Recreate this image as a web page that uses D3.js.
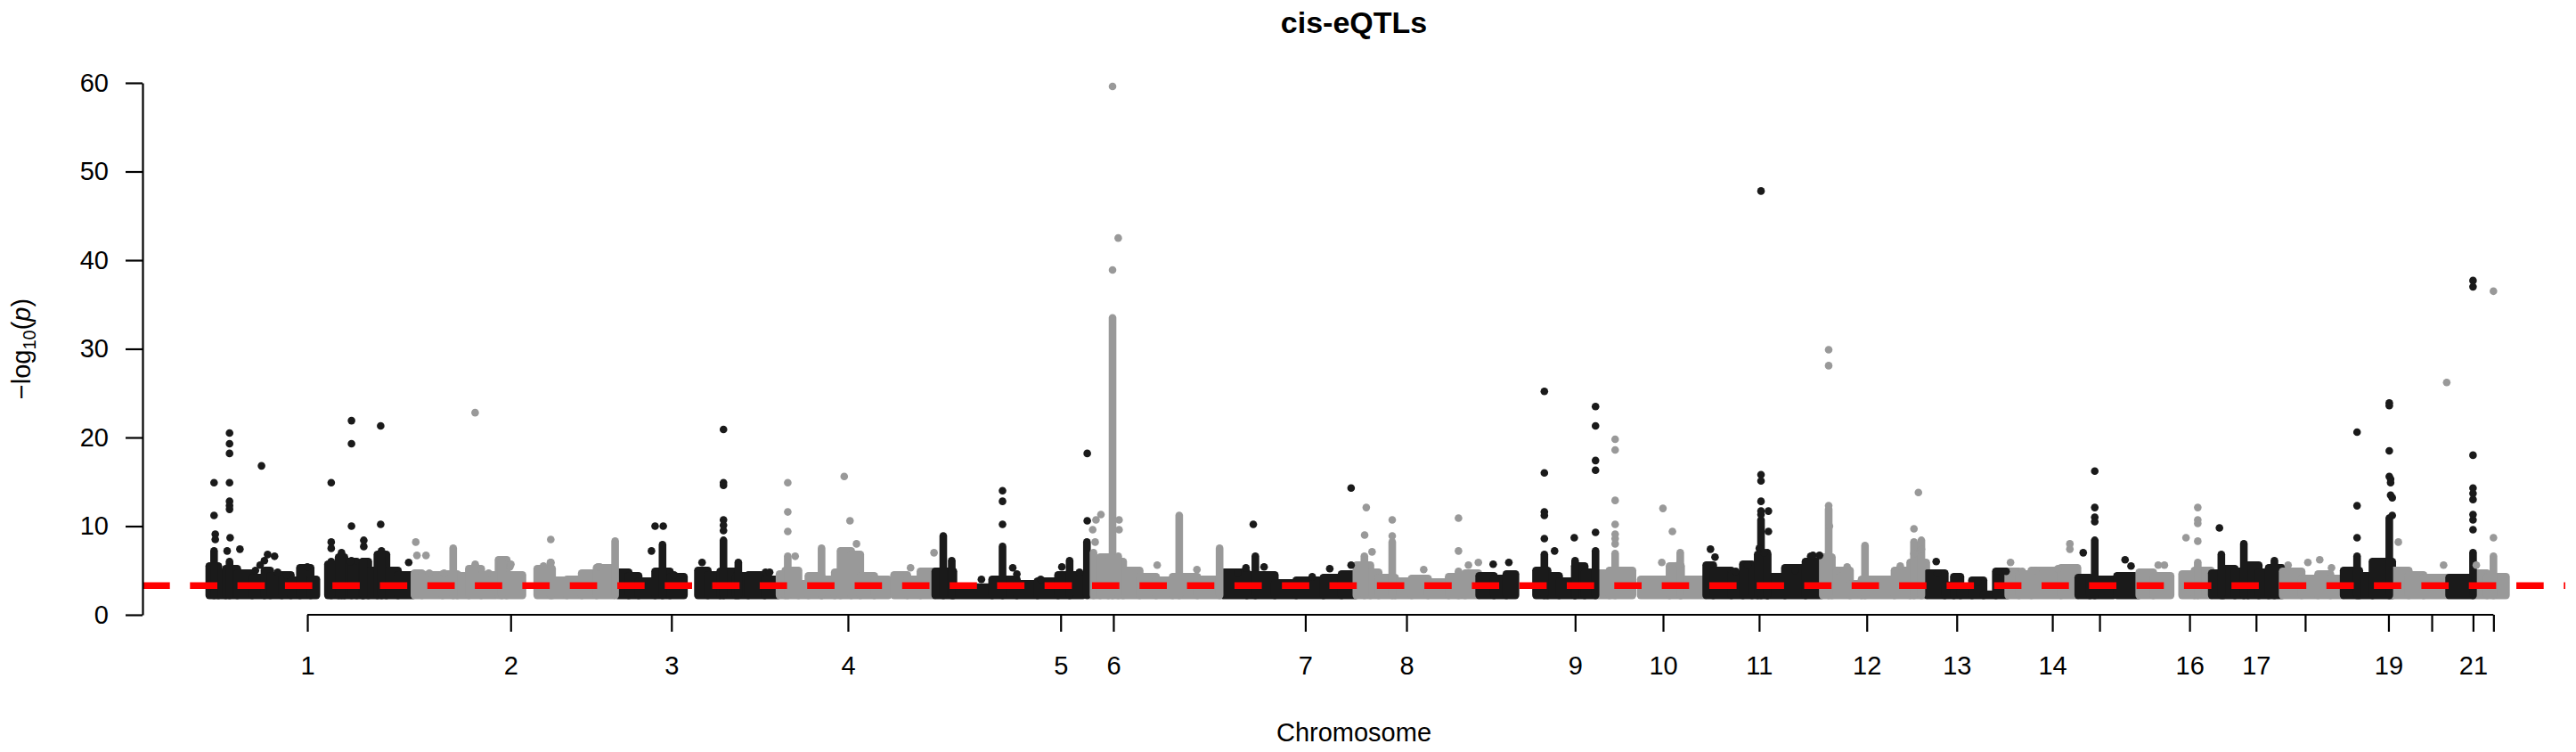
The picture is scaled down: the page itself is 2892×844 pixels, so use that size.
<!DOCTYPE html>
<html>
<head>
<meta charset="utf-8">
<script src="https://cdn.jsdelivr.net/npm/d3@7"></script>
<style>
  body { margin: 0; background: #fff; }
  text { font-family: "Liberation Sans", Arial, sans-serif; fill: #000; }
</style>
</head>
<body>
<div id="chart"></div>
<script>
// chromosome layout, cumulative position in Mb
var chrLabels = ["1","2","3","4","5","6","7","8","9","10","11","12","13","14","15","16","17","18","19","20","21","22"];
var chrStart = [0, 249, 496, 692, 882, 1067, 1231, 1393, 1542, 1685, 1817, 1958, 2085, 2184, 2269, 2343, 2431, 2517, 2591, 2651, 2718, 2749.5];
var tickPos = [120, 366.7, 561.8, 776, 1034.1, 1098.1, 1331, 1453.8, 1658.4, 1765.1, 1881.7, 2012.3, 2121.5, 2237.5, 2294.8, 2404, 2484.7, 2544.3, 2645.4, 2697.9, 2748, 2772.8];
var tickLabels = ["1","2","3","4","5","6","7","8","9","10","11","12","13","14","","16","17","","19","","21",""];
var yTicks = [0, 10, 20, 30, 40, 50, 60];
var threshold = 3.3;

// dense runs of SNPs: [start, end, top -log10(p)]
var bands = [
  [1,12,5.5],[12,21,4.7],[21,35,5.2],[35,53,4.7],[53,68,4.2],[68,75,5.0],[75,89,4.4],[89,100,4.5],[100,111,3.9],[111,124,5.3],[124,131,4.0],
  [145,158,5.7],[158,165,6.5],[165,180,6.0],[180,187,5.3],[187,194,6.0],[194,205,5.0],[205,216,6.8],[216,230,5.0],[230,248,4.5],
  [250,259,4.7],[259,284,4.5],[284,302,4.6],[302,316,4.4],[316,331,5.2],[331,349,4.5],[352,362,6.2],[362,381,4.5],
  [399,417,5.2],[417,435,3.9],[435,453,4.0],[453,471,4.7],[471,492,5.3],
  [497,510,4.8],[510,522,4.4],[522,542,3.8],[542,560,4.9],[560,577,4.3],[594,606,5.0],[606,621,4.5],[621,640,4.9],[640,655,4.4],[655,675,4.5],[675,691,4.0],
  [693,700,4.6],[700,716,5.0],[716,728,3.5],[728,744,4.4],[744,760,4.0],[760,767,4.8],[767,780,7.2],[780,791,6.8],[791,808,4.4],[808,825,4.0],[832,848,4.5],[848,864,4.0],[864,881,4.9],
  [882,904,4.9],[904,951,3.1],[951,981,4.0],[981,1006,3.5],[1006,1031,3.8],[1031,1061,4.5],
  [1068,1082,5.5],[1082,1092,6.5],[1092,1110,6.0],[1110,1130,5.0],[1130,1150,4.3],[1150,1170,3.9],[1170,1200,4.3],[1200,1230,4.0],
  [1232,1260,4.8],[1260,1294,4.5],[1294,1320,3.6],[1320,1353,3.9],[1353,1375,4.2],[1375,1392,4.6],
  [1393,1410,5.6],[1410,1420,4.8],[1420,1440,4.2],[1440,1460,3.8],[1460,1480,4.1],[1480,1505,3.7],[1505,1525,4.3],[1525,1541,4.7],
  [1542,1560,4.4],[1560,1575,4.1],[1575,1586,4.6],[1611,1625,5.0],[1625,1639,4.4],[1639,1658,3.8],[1658,1670,5.5],[1670,1683,4.8],
  [1685,1700,4.7],[1700,1728,5.0],[1738,1773,4.0],[1773,1787,5.5],[1787,1816,4.0],
  [1817.5,1826,5.6],[1826,1848,5.0],[1848,1862,4.6],[1862,1873,5.7],[1873,1880,5.2],[1880,1892,6.8],[1892,1913,4.3],[1913,1938,5.3],[1938,1957,6.0],
  [1959,1970,6.5],[1970,1992,5.0],[1992,2006,3.5],[2006,2046,4.0],[2046,2065,5.0],[2065,2084.5,5.9],
  [2086,2107,4.7],[2107,2118,3.3],[2118,2126,4.3],[2126,2140,2.7],[2140,2154,3.9],[2154,2169,2.3],[2169,2183,4.9],
  [2184,2197,4.9],[2197,2212,4.6],[2212,2248,5.0],[2248,2268,5.3],
  [2269,2283,4.2],[2283,2311.5,4.0],[2316,2342,4.4],
  [2343,2360,4.8],[2360,2381,4.4],[2395,2410,4.6],[2410,2430,5.0],
  [2431,2445,4.7],[2445,2459,5.2],[2459,2475,4.9],[2475,2488,5.6],[2488,2500,4.8],[2500,2516,5.3],
  [2517,2540,4.9],[2540,2560,4.1],[2560,2575,4.6],[2575,2590,4.1],
  [2591,2610,5.0],[2610,2626,4.4],[2626,2650,6.0],
  [2651,2670,5.0],[2670,2688,4.5],[2688,2717,4.2],
  [2719,2748,4.2],
  [2750,2765,4.7],[2765,2788,4.3]
];

// solid columns of stacked SNPs: [position, top]
var spikes = [
  [6.8,7.2],[25.6,6.0],[149,6.0],[161.5,7.0],[173.6,6.1],[188,6.0],[210,7.2],
  [297,7.5],[355.8,6.1],[415,5.9],[493.5,8.3],
  [551,7.9],[625,8.4],[643,5.9],
  [744,7.5],[703,6.6],
  [891.7,8.9],[902,6.1],[963.6,7.7],[1045,6.1],[1066,8.2],
  [1097.1,33.5],[1074,7.0],[1178,11.2],[1227,7.5],[1104,6.6],
  [1270.4,6.6],
  [1402.7,6.6],[1436.5,8.2],[1516.9,4.9],
  [1621.1,6.8],[1658.4,6.1],[1683.2,7.2],
  [1707,6.9],[1786,7.0],
  [1884,10.7],[1891.6,7.0],
  [1966.1,11.9],[2010.2,7.8],[2069.6,8.2],[2078.6,8.4],
  [2289,8.4],
  [2414,5.9],
  [2469.9,8.0],[2442.6,6.8],[2507,6.1],
  [2607.3,6.6],[2646.4,10.9],
  [2748,7.0],
  [2772.8,6.6]
];

// single SNPs above the bulk: [position, -log10(p)]
var hits = [
  [6.8,14.9],[6.8,11.2],[8.3,9.1],[8.3,8.5],[25.6,20.5],[25.6,19.3],[25.6,18.2],[25.6,14.9],[25.6,12.8],
  [25.6,12.3],[25.6,11.9],[26.3,8.7],[22.7,7.2],[64.4,16.8],[38.2,7.4],[57,5.0],[62.7,5.6],[67.9,6.1],
  [71.8,6.8],[80.2,6.6],[84,4.8],[95,4.5],[120,5.4],[149,14.9],[149,8.2],[149,7.5],[173.6,21.9],
  [173.6,19.3],[173.6,10.0],[172.3,6.0],[188.5,8.4],[188.5,7.7],[209,21.3],[209,10.2],[243,5.9],
  [251.6,8.2],[253,6.7],[264,6.7],[268,4.7],[286,4.7],[323.6,22.8],[323.7,5.7],[340,4.7],[365.7,5.4],[367,5.7],
  [415.4,8.5],[406.6,5.5],[415.6,5.9],[472.5,5.4],[475,5.4],
  [537.6,7.2],[542,10.0],[551.9,10.0],[565,4.5],[599,5.9],[625,20.9],[625,14.9],[625,14.6],[625,10.7],
  [625,10.1],[625,9.5],[676,4.8],[681,4.8],
  [703,14.9],[703,11.6],[703,9.4],[712,6.6],[771.5,15.6],[778.5,10.6],[786.4,8.0],[852,5.3],[880.5,7.0],
  [963.6,14.0],[963.6,12.8],[963.6,10.2],[976,5.3],[981,4.6],[938,4.0],[1010,4.0],[1035.6,5.4],[1057,4.8],
  [1066.4,18.2],[1066.4,10.6],
  [1097.1,59.6],[1104,42.5],[1097.1,38.9],[1073,9.6],[1077,10.7],[1083,11.3],[1076,8.2],[1105,10.7],
  [1105,9.6],[1151.3,5.6],[1199.5,5.1],
  [1249,4.7],[1267.9,10.2],[1259,5.3],[1281,5.4],[1339.4,4.3],[1360.7,5.2],[1386.6,14.3],[1386.6,5.6],
  [1405,12.1],[1403,9.0],[1412,7.1],[1436.5,10.7],[1436.5,8.9],[1474.7,5.1],[1516.9,10.9],[1516.9,7.2],
  [1529,5.6],[1541,5.9],
  [1559,5.7],[1578,5.9],[1621.1,25.2],[1621.1,16.0],[1621.1,11.6],[1621.1,11.2],[1621.1,8.6],[1633.5,7.2],
  [1657.4,8.7],[1683.2,23.5],[1683.2,21.3],[1683.2,17.4],[1683.2,16.3],[1683.2,9.3],
  [1707,19.8],[1707,18.6],[1707,12.9],[1707,10.2],[1707,9.1],[1707,8.6],[1707,8.0],[1730.3,3.3],
  [1765,12.0],[1776.5,9.4],[1763.6,5.9],[1785,5.7],
  [1822.7,7.4],[1828.2,6.5],[1853.4,4.9],[1867.8,5.6],
  [1884,47.8],[1884,15.8],[1884,15.1],[1884,12.8],[1884,11.7],[1884,11.3],[1893,11.7],
  [1893,9.4],[1882,7.5],[1888,7.0],[1925.5,5.0],[1944.3,6.6],[1947,6.7],[1955,6.7],
  [1966.1,29.9],[1966.1,28.1],[1966.1,12.3],[1967,10.0],[1976,5.0],[1988.5,5.4],
  [2075,13.8],[2069.6,9.7],[2069.6,6.9],[2053,5.5],[2078.6,7.4],
  [2096.6,6.0],[2098,4.7],[2120,4.2],[2147,3.7],[2170.5,4.2],[2181.4,4.9],
  [2186.8,5.9],[2201,4.9],[2217.4,5.0],[2244.4,5.2],[2258.8,8.0],[2258.8,7.4],
  [2275,7.0],[2289,16.2],[2289,12.1],[2289,11.0],[2289,10.5],[2325.8,6.2],[2333,5.5],
  [2373.5,5.6],[2399.7,8.7],[2414,12.1],[2414,10.7],[2414,10.3],[2414,8.3],[2366,5.6],
  [2440.3,9.8],
  [2523.6,5.6],[2547.6,5.9],[2562,6.2],[2576.3,5.3],
  [2607.3,20.6],[2607.3,12.3],[2607.3,8.7],[2646.4,23.9],[2646.4,23.6],[2646.4,18.5],[2646.4,15.6],
  [2648,15.3],[2648,14.9],[2648,13.5],[2650,13.2],[2650,11.2],
  [2657.4,8.2],[2716.1,26.2],[2712.3,5.6],
  [2748,37.7],[2748,37.0],[2748,18.0],[2748,14.3],[2748,13.7],[2748,13.0],[2748,11.3],[2748,10.7],[2748,9.6],
  [2772.8,36.5],[2772.8,8.7],[2752,5.6]
];

var chrColors = ["#1a1a1a", "#999999"];

var W = 2892, H = 844;
var plotLeft = 160, plotRight = 2880, plotTop = 93, plotBottom = 690;
var r = 4.3;
var baseVal = 2.2;

var svg = d3.select("#chart").append("svg")
    .attr("width", W)
    .attr("height", H);

var x = d3.scaleLinear().domain([-80, 2860]).range([plotLeft, plotRight]);
var y = d3.scaleLinear().domain([0, 60]).range([plotBottom, plotTop]);

function colorOf(pos) {
  var i = d3.bisectRight(chrStart, pos) - 1;
  return chrColors[Math.max(i, 0) % 2];
}

var plot = svg.append("g");

// dense bulk of SNPs
plot.append("g")
  .selectAll("rect")
  .data(bands)
  .enter()
  .append("rect")
    .attr("x", d => x(d[0]) - r)
    .attr("width", d => x(d[1]) - x(d[0]) + 2 * r)
    .attr("y", d => y(d[2]) - r)
    .attr("height", d => y(baseVal) - y(d[2]) + 2 * r)
    .attr("rx", r)
    .attr("fill", d => colorOf(d[0]));

// stacked columns
plot.append("g")
  .selectAll("line")
  .data(spikes)
  .enter()
  .append("line")
    .attr("x1", d => x(d[0]))
    .attr("x2", d => x(d[0]))
    .attr("y1", y(baseVal))
    .attr("y2", d => y(d[1]))
    .attr("stroke", d => colorOf(d[0]))
    .attr("stroke-width", 2 * r)
    .attr("stroke-linecap", "round");

// single points
plot.append("g")
  .selectAll("circle")
  .data(hits)
  .enter()
  .append("circle")
    .attr("cx", d => x(d[0]))
    .attr("cy", d => y(d[1]))
    .attr("r", r)
    .attr("fill", d => colorOf(d[0]));

// threshold line
svg.append("line")
  .attr("x1", plotLeft)
  .attr("x2", plotRight)
  .attr("y1", y(threshold))
  .attr("y2", y(threshold))
  .attr("stroke", "#ff0000")
  .attr("stroke-width", 7.5)
  .attr("stroke-dasharray", "30.7,22.6");

// y axis
var yAxis = svg.append("g")
  .attr("transform", "translate(" + plotLeft + ",0)")
  .call(d3.axisLeft(y).tickValues(yTicks).tickSize(19).tickSizeOuter(0).tickPadding(19));
yAxis.selectAll("path, line").attr("stroke", "#000").attr("stroke-width", 2.2);
yAxis.selectAll("text").attr("font-size", 29).attr("font-family", "Liberation Sans, Arial, sans-serif");

// x axis
var xAxis = svg.append("g")
  .attr("transform", "translate(0," + plotBottom + ")")
  .call(d3.axisBottom(x).tickValues(tickPos).tickFormat((d, i) => tickLabels[i]).tickSize(19).tickPadding(27));
xAxis.select(".domain").remove();
xAxis.append("line")
  .attr("x1", x(tickPos[0]))
  .attr("x2", x(tickPos[tickPos.length - 1]))
  .attr("stroke", "#000");
xAxis.selectAll("line").attr("stroke", "#000").attr("stroke-width", 2.2);
xAxis.selectAll("text").attr("font-size", 29).attr("font-family", "Liberation Sans, Arial, sans-serif");

// titles
svg.append("text")
  .attr("x", (plotLeft + plotRight) / 2)
  .attr("y", 37)
  .attr("text-anchor", "middle")
  .attr("font-size", 34)
  .attr("font-weight", "bold")
  .text("cis-eQTLs");

svg.append("text")
  .attr("x", (plotLeft + plotRight) / 2)
  .attr("y", 832)
  .attr("text-anchor", "middle")
  .attr("font-size", 29)
  .text("Chromosome");

var ylab = svg.append("text")
  .attr("transform", "translate(34," + (plotTop + plotBottom) / 2 + ") rotate(-90)")
  .attr("text-anchor", "middle")
  .attr("font-size", 29);
ylab.append("tspan").text("\u2212log");
ylab.append("tspan").attr("font-size", 20).attr("dy", 6).text("10");
ylab.append("tspan").attr("dy", -6).text("(");
ylab.append("tspan").attr("font-style", "italic").text("p");
ylab.append("tspan").text(")");
</script>
</body>
</html>
